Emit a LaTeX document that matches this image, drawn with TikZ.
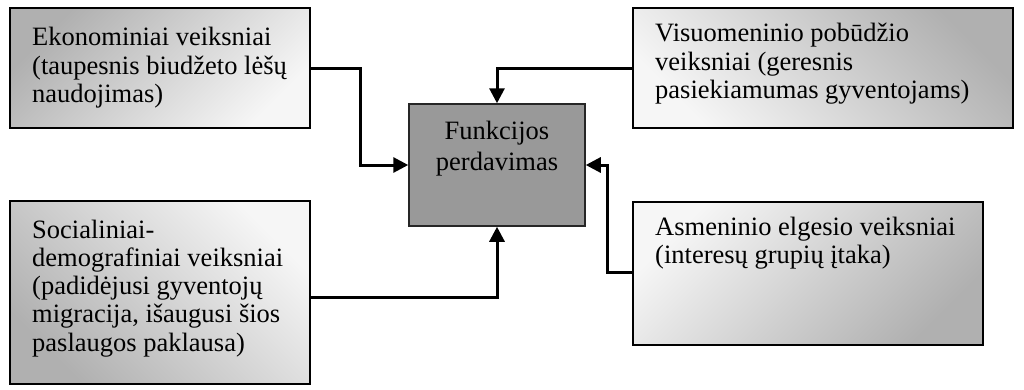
\documentclass[tikz,border=0pt]{standalone}
\usepackage{fontspec}
\setmainfont{Liberation Serif}
\usetikzlibrary{arrows.meta}

\definecolor{shadegray}{HTML}{B0B0B0}
\definecolor{shadelight}{HTML}{F6F6F6}
\definecolor{corefill}{HTML}{999999}

\tikzset{
  factorbox/.style={draw=black, line width=2pt, rectangle, inner sep=0pt},
  corebox/.style={draw=black!85, line width=1.5pt, fill=corefill, rectangle, inner sep=0pt},
  boxtext/.style={inner sep=0pt, anchor=north west, align=left,
    font=\fontsize{26.5}{28.2}\selectfont, text=black},
  link/.style={line width=3pt, -{Triangle[length=15pt,width=15pt]}}
}

\begin{document}
\begin{tikzpicture}[x=1pt,y=-1pt]
\useasboundingbox (0,0) rectangle (1024,389);

% factor boxes with diagonal gradient fills
\node[factorbox, minimum width=300pt, minimum height=120pt,
      top color=shadegray, bottom color=shadelight, shading angle=45]
  (econ) at (160,68) {};
\node[factorbox, minimum width=380pt, minimum height=120pt,
      top color=shadegray, bottom color=shadelight, shading angle=-45]
  (soc) at (823,68) {};
\node[factorbox, minimum width=300pt, minimum height=183pt,
      top color=shadelight, bottom color=shadegray, shading angle=-45]
  (demo) at (160,292.5) {};
\node[factorbox, minimum width=350pt, minimum height=143pt,
      top color=shadelight, bottom color=shadegray, shading angle=45]
  (pers) at (808,273.5) {};

% central box
\node[corebox, minimum width=176pt, minimum height=122pt] (core) at (497,165) {};

% texts
\node[boxtext] (econtxt) at (32,26)
  {\strut Ekonominiai veiksniai\\(taupesnis biudžeto lėšų\\naudojimas)};
\node[boxtext] (soctxt) at (655,22)
  {\strut Visuomeninio pobūdžio\\veiksniai (geresnis\\pasiekiamumas gyventojams)};
\node[boxtext] (demotxt) at (32,218.3)
  {\strut Socialiniai-\\demografiniai veiksniai\\(padidėjusi gyventojų\\migracija, išaugusi šios\\paslaugos paklausa)};
\node[boxtext] (perstxt) at (655,215.3)
  {\strut Asmeninio elgesio veiksniai\\(interesų grupių įtaka)};
\node[boxtext, anchor=north, align=center, font=\fontsize{26.5}{31}\selectfont]
  (coretxt) at (497,117.3) {\strut Funkcijos\\perdavimas};

% connectors
\draw[link] (econ.east) -- ++(49,0) |- (core.west);
\draw[link] (soc.west) -| (core.north);
\draw[link] ([yshift=-4.5pt]demo.east) -| (core.south);
\draw[link] ([yshift=1.5pt]pers.west) -- ++(-25,0) |- (core.east);
\end{tikzpicture}
\end{document}
